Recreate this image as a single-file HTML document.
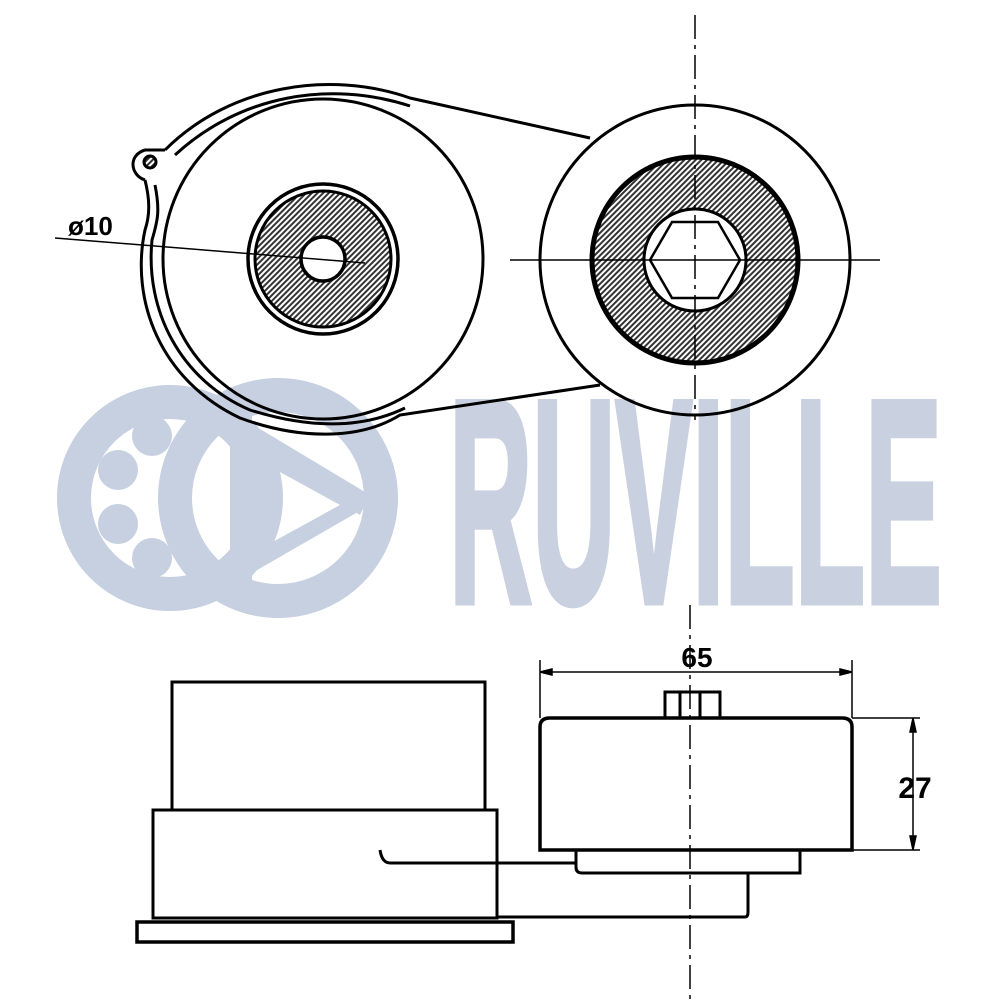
<!DOCTYPE html>
<html><head><meta charset="utf-8"><style>html,body{margin:0;padding:0;background:#fff}svg{display:block}</style></head><body>
<svg width="1000" height="1000" viewBox="0 0 1000 1000" xmlns="http://www.w3.org/2000/svg">
<defs>
<pattern id="h" width="4" height="4" patternUnits="userSpaceOnUse" patternTransform="rotate(45)"><rect width="4" height="4" fill="#fff"/><rect width="2" height="4" fill="#333"/></pattern>
</defs>
<!-- logo -->
<g fill="none" stroke="#c7d0e0" stroke-width="34">
<circle cx="170" cy="498" r="96"/>
<circle cx="278" cy="498" r="103"/>
</g>
<g fill="#c7d0e0">
<circle cx="152" cy="436" r="20"/><circle cx="118" cy="470" r="20"/><circle cx="118" cy="524" r="20"/><circle cx="152" cy="558" r="20"/>
<rect x="230" y="400" width="22" height="200"/>
<polygon points="240,430 370,505 240,580 240,560 340,505 240,450"/>
<polygon points="245,420 370,495 360,515 235,440"/>
</g>
<text x="449" y="602" font-family="Liberation Sans Narrow, Liberation Sans, sans-serif" font-weight="bold" font-size="290" fill="#c9d1e0" stroke="#c9d1e0" stroke-width="7" stroke-linejoin="miter" textLength="493" lengthAdjust="spacingAndGlyphs">RUVILLE</text>

<g fill="none" stroke="#000" stroke-width="3">
<!-- left housing -->
<circle cx="323" cy="259" r="160"/>
<path d="M165,150 C230,85 330,70 410,98 L590,138"/>
<path d="M175,155 C240,95 330,80 410,106"/>
<path d="M145,180 C150,200 150,215 145,230 C130,300 160,380 240,418 C300,440 360,440 400,415 L600,385"/>
<path d="M155,185 C160,210 158,220 152,240 C145,310 180,380 250,410 C320,432 370,425 405,408"/>
<path d="M145,180 C130,175 128,155 145,150 L165,150"/>
<circle cx="150" cy="162" r="6" fill="url(#h)"/>
<circle cx="323" cy="259" r="75" stroke-width="3.5"/>
<circle cx="323" cy="259" r="68" fill="url(#h)"/>
<circle cx="323" cy="259" r="22" fill="#fff" stroke-width="3.5"/>
<!-- right pulley -->
<circle cx="695" cy="260" r="155"/>
<circle cx="695" cy="260" r="103" fill="url(#h)" stroke-width="5"/>
<circle cx="695" cy="260" r="51" fill="#fff" stroke-width="3"/>
<polygon points="650,260 672,222 718,222 740,260 718,298 672,298" stroke-width="2.5"/>
</g>
<g stroke="#000" stroke-width="1.5" fill="none">
<line x1="55" y1="238" x2="365" y2="263"/>
<line x1="510" y1="260" x2="880" y2="260"/>
<line x1="695" y1="15" x2="695" y2="420" stroke-dasharray="24,6,4,6"/>
<line x1="690" y1="605" x2="690" y2="1000" stroke-dasharray="24,6,4,6"/>
</g>
<text x="68" y="235" font-family="Liberation Sans, sans-serif" font-weight="bold" font-size="26" fill="#000">ø10</text>

<!-- bottom view -->
<g fill="none" stroke="#000" stroke-width="3">
<rect x="172" y="682" width="313" height="128"/>
<rect x="153" y="810" width="344" height="108"/>
<rect x="137" y="922" width="376" height="20" stroke-width="3.5"/>
<path d="M540,850 L540,727 Q540,718 550,718 L842,718 Q852,718 852,727 L852,850 Z" stroke-width="3.5"/>
<rect x="665" y="692" width="55" height="26"/>
<line x1="680" y1="692" x2="680" y2="718"/><line x1="700" y1="692" x2="700" y2="718"/>
<path d="M576,850 L576,867 Q576,873 582,873 L800,873 L800,850"/>
<path d="M380,850 Q382,863 390,863 L575,863"/>
<path d="M497,917 L745,917 Q748,917 748,912 L748,873"/>
</g>
<g stroke="#000" stroke-width="1.5" fill="#000">
<line x1="540" y1="660" x2="540" y2="718"/><line x1="852" y1="660" x2="852" y2="718"/>
<line x1="540" y1="672" x2="852" y2="672"/>
<polygon points="540,672 552,669 552,675"/><polygon points="852,672 840,669 840,675"/>
<line x1="852" y1="718" x2="920" y2="718"/><line x1="852" y1="850" x2="920" y2="850"/>
<line x1="913" y1="718" x2="913" y2="850"/>
<polygon points="913,718 910,732 916,732"/><polygon points="913,850 910,836 916,836"/>
</g>
<text x="697" y="667" text-anchor="middle" font-family="Liberation Sans Narrow, Liberation Sans, sans-serif" font-weight="bold" font-size="28" fill="#000">65</text>
<text x="915" y="798" text-anchor="middle" font-family="Liberation Sans Narrow, Liberation Sans, sans-serif" font-weight="bold" font-size="30" fill="#000">27</text>
</svg>
</body></html>
